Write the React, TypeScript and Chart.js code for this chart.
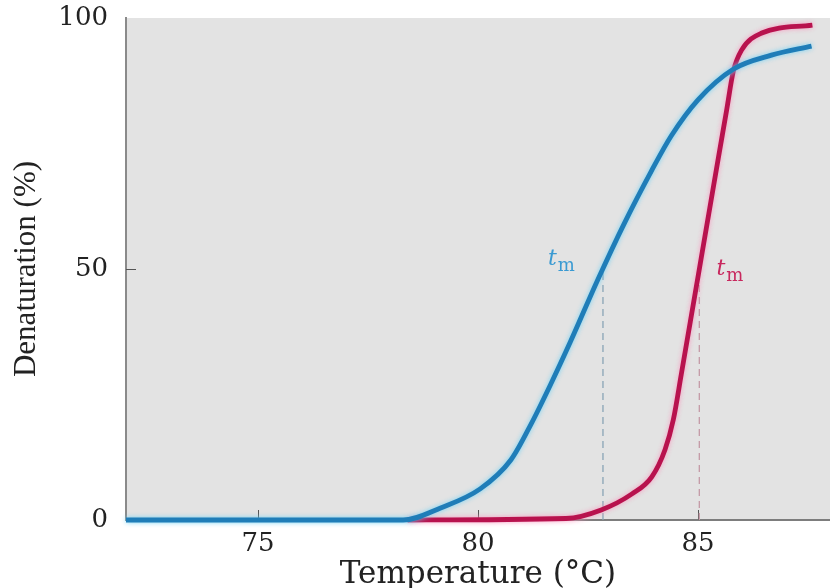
import React, { useEffect, useRef } from "react";
import { Chart, registerables } from "chart.js";

Chart.register(...registerables);

// Data
const blueTemps = [72, 78.3, 79.15, 80.05, 80.75, 81.2, 81.65, 82.1, 82.73, 83.32, 83.94, 84.39, 85.0, 85.8, 86.67, 87.58];
const blueDenat = [0, 0, 2.4, 6.2, 12, 19, 27, 35.5, 48, 59, 69.5, 76.5, 83.7, 89.8, 92.6, 94.4];
const redTemps = [78.4, 82.0, 82.8, 83.5, 83.95, 84.25, 84.44, 84.62, 84.96, 85.07, 85.46, 85.65, 85.8, 85.99, 86.45, 87.6];
const redDenat = [0, 0.3, 2.0, 5.2, 8.6, 14, 20, 29, 46.4, 52, 72, 81.6, 89.3, 93.6, 97, 98.6];

const blueTm = 82.84;
const redTm = 85.03;
const blueTmTop = 50;
const redTmTop = 48;

const xTicks = [75, 80, 85];
const yTicks = [0, 50, 100];
const xMin = 72;
const xMax = 88;

const xTitle = "Temperature (°C)";
const yTitle = "Denaturation (%)";
const tmLabels = [
  { x: 81.59, y: 50.8, main: "t", sub: "m", color: "#3a9ad2" },
  { x: 85.42, y: 48.8, main: "t", sub: "m", color: "#c8285e" },
];

const toPts = (xs: number[], ys: number[]) => xs.map((x, i) => ({ x, y: ys[i] }));

const bgPlugin = {
  id: "plotBg",
  beforeDraw(chart: any) {
    const { ctx, chartArea } = chart;
    ctx.save();
    ctx.fillStyle = "#e3e3e3";
    ctx.fillRect(chartArea.left, chartArea.top, chartArea.right - chartArea.left, chartArea.bottom - chartArea.top);
    ctx.restore();
  },
  beforeDatasetsDraw(chart: any) {
    const { ctx, chartArea, scales } = chart;
    ctx.save();
    ctx.strokeStyle = "#555";
    ctx.lineWidth = 1;
    xTicks.forEach((v) => {
      const px = Math.round(scales.x.getPixelForValue(v)) + 0.5;
      ctx.beginPath();
      ctx.moveTo(px, chartArea.bottom);
      ctx.lineTo(px, chartArea.bottom - 10);
      ctx.stroke();
    });
    yTicks.forEach((v) => {
      if (v === 0 || v === 100) return;
      const py = Math.round(scales.y.getPixelForValue(v)) + 0.5;
      ctx.beginPath();
      ctx.moveTo(chartArea.left, py);
      ctx.lineTo(chartArea.left + 10, py);
      ctx.stroke();
    });
    ctx.restore();
  },
  beforeDatasetDraw(chart: any, args: any) {
    const ds = chart.data.datasets[args.index] as any;
    chart.ctx.save();
    if (ds.halo) {
      chart.ctx.shadowColor = ds.halo;
      chart.ctx.shadowBlur = 5;
    }
  },
  afterDatasetDraw(chart: any) {
    chart.ctx.restore();
  },
  afterDatasetsDraw(chart: any) {
    const { ctx, scales } = chart;
    ctx.save();
    ctx.textBaseline = "alphabetic";
    ctx.textAlign = "left";
    tmLabels.forEach((l) => {
      const px = scales.x.getPixelForValue(l.x);
      const py = scales.y.getPixelForValue(l.y);
      ctx.fillStyle = l.color;
      ctx.font = "italic 22px 'DejaVu Serif'";
      ctx.fillText(l.main, px, py);
      const w = ctx.measureText(l.main).width;
      ctx.font = "18px 'DejaVu Serif'";
      ctx.fillText(l.sub, px + w + 1, py + 6);
    });
    ctx.restore();
  },
};

export default function App() {
  const ref = useRef<HTMLCanvasElement | null>(null);

  useEffect(() => {
    document.body.style.margin = "0";
    if (!ref.current) return;
    const chart = new Chart(ref.current, {
      type: "line",
      data: {
        datasets: [
          {
            data: toPts(blueTemps, blueDenat),
            borderColor: "#1f7db8",
            borderWidth: 4.8,
            pointRadius: 0,
            cubicInterpolationMode: "monotone",
            halo: "rgba(110,210,245,0.95)",
            clip: 8,
            order: 0,
          } as any,
          {
            data: toPts(redTemps, redDenat),
            borderColor: "#b8124e",
            borderWidth: 4.8,
            pointRadius: 0,
            cubicInterpolationMode: "monotone",
            halo: "rgba(250,150,190,0.95)",
            clip: 8,
            order: 1,
          } as any,
          {
            data: [{ x: blueTm, y: 0 }, { x: blueTm, y: blueTmTop }],
            borderColor: "#8aa4b6",
            borderWidth: 1.3,
            borderDash: [7, 5],
            pointRadius: 0,
            order: 5,
          },
          {
            data: [{ x: redTm, y: 0 }, { x: redTm, y: redTmTop }],
            borderColor: "#c49aa6",
            borderWidth: 1.3,
            borderDash: [7, 5],
            pointRadius: 0,
            order: 5,
          },
        ],
      },
      options: {
        responsive: false,
        animation: false,
        layout: { padding: { top: 18, right: 0, left: 0, bottom: 0 } },
        plugins: { legend: { display: false }, tooltip: { enabled: false } },
        scales: {
          x: {
            type: "linear",
            min: xMin,
            max: xMax,
            afterBuildTicks: (s: any) => {
              s.ticks = xTicks.map((v) => ({ value: v }));
            },
            afterFit: (s: any) => {
              s.height = 68;
              s.paddingLeft = 0;
              s.paddingRight = 0;
            },
            grid: { display: false, drawTicks: false },
            border: { display: true, color: "#7d7d7d", width: 2 },
            ticks: {
              color: "#222",
              padding: 9,
              maxRotation: 0,
              font: { family: "'DejaVu Serif'", size: 26 },
            },
            title: {
              display: true,
              text: xTitle,
              color: "#222",
              font: { family: "'DejaVu Serif'", size: 31 },
              padding: { top: 0, bottom: -6 },
            },
          },
          y: {
            type: "linear",
            min: 0,
            max: 100,
            afterBuildTicks: (s: any) => {
              s.ticks = yTicks.map((v) => ({ value: v }));
            },
            afterFit: (s: any) => {
              s.width = 126;
              s.paddingTop = 0;
              s.paddingBottom = 0;
            },
            grid: { display: false, drawTicks: false },
            border: { display: true, color: "#8a8a8a", width: 2 },
            ticks: {
              color: "#222",
              padding: 18,
              font: { family: "'DejaVu Serif'", size: 26 },
            },
            title: {
              display: true,
              text: yTitle,
              color: "#222",
              font: { family: "'Liberation Serif'", size: 31 },
              padding: { top: 8, bottom: 0 },
            },
          },
        },
      },
      plugins: [bgPlugin],
    });
    return () => chart.destroy();
  }, []);

  return (
    <div style={{ width: 830, height: 588 }}>
      <canvas ref={ref} width={830} height={588} style={{ display: "block" }} />
    </div>
  );
}
